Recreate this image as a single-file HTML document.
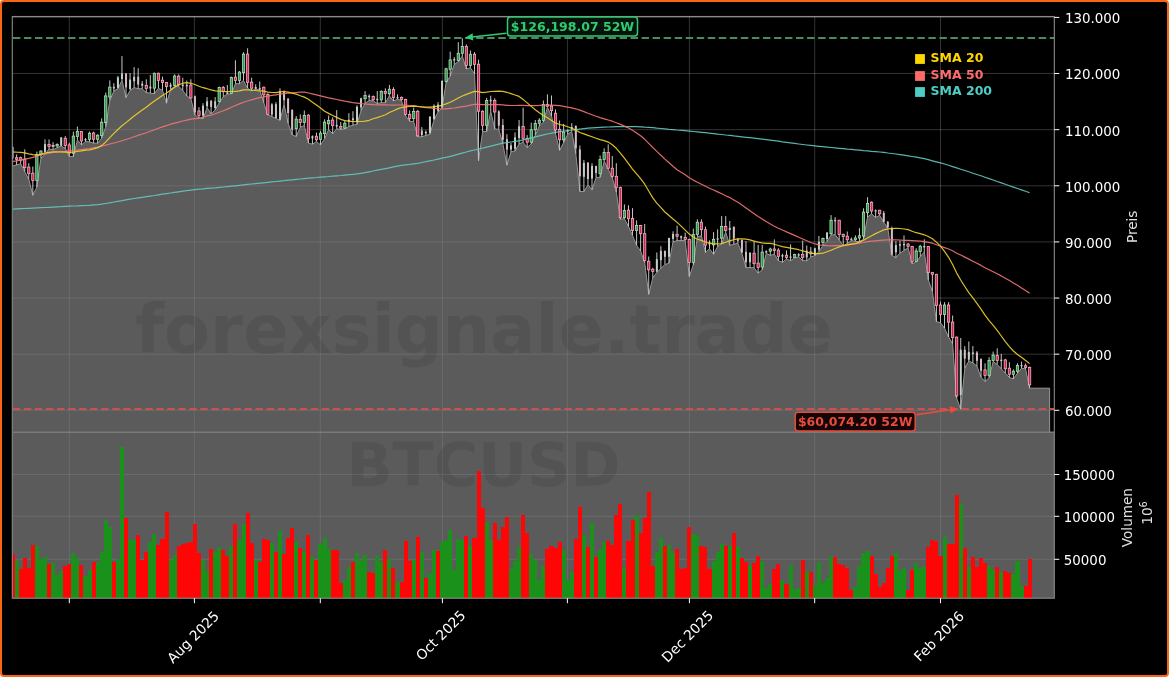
<!DOCTYPE html>
<html><head><meta charset="utf-8"><title>BTCUSD Chart</title>
<style>
html,body{margin:0;padding:0;background:#fff;}
#wrap{position:relative;width:1169px;height:677px;overflow:hidden;background:#fff;}
#frame{position:absolute;left:0;top:0;width:1169px;height:677px;box-sizing:border-box;border:2px solid #f96512;border-radius:4px;background:#000;}
</style></head><body><div id="wrap"><div id="frame"></div>
<svg width="1169" height="677" viewBox="0 0 1169 677" style="position:absolute;left:0;top:0;will-change:transform">
<defs><clipPath id="pc"><rect x="12.3" y="16.5" width="1042.0" height="415.5"/></clipPath>
<clipPath id="vc"><rect x="12.3" y="432.0" width="1042.0" height="166.2"/></clipPath></defs>
<path d="M12.3,410.31H1054.3M12.3,354.18H1054.3M12.3,298.05H1054.3M12.3,241.92H1054.3M12.3,185.79H1054.3M12.3,129.66H1054.3M12.3,73.53H1054.3M12.3,17.40H1054.3M69.3,16.5V598.2M194.4,16.5V598.2M320.3,16.5V598.2M442.4,16.5V598.2M567.4,16.5V598.2M689.4,16.5V598.2M814.7,16.5V598.2M940.5,16.5V598.2M12.3,474.5H1054.3M12.3,516.3H1054.3M12.3,559.3H1054.3" stroke="#fff" stroke-opacity="0.2" stroke-width="1" fill="none"/>
<g clip-path="url(#pc)">
<polygon points="10.3,166.0 12.6,166.0 16.6,164.9 20.7,163.8 24.7,171.5 28.8,179.3 32.8,195.3 36.9,187.0 40.9,158.2 45.0,154.4 49.0,148.8 53.1,149.9 57.1,147.7 61.2,146.0 65.2,148.3 69.3,156.6 73.3,156.6 77.4,139.9 81.5,144.9 85.5,141.5 89.6,141.9 93.6,143.2 97.7,143.2 101.7,138.2 105.8,126.6 109.8,100.4 113.9,91.0 117.9,88.7 122.0,80.4 126.0,97.6 130.1,90.4 134.1,87.6 138.2,88.7 142.2,88.8 146.3,92.6 150.3,93.2 154.4,93.7 158.4,88.2 162.5,90.4 166.5,103.2 170.6,89.3 174.6,86.5 178.7,86.2 182.8,90.4 186.8,96.0 190.9,98.7 194.9,114.9 199.0,117.9 203.0,118.7 207.1,107.7 211.1,113.8 215.2,109.9 219.2,102.7 223.3,96.6 227.3,94.2 231.4,93.8 235.4,83.7 239.5,83.7 243.5,80.4 247.6,88.2 251.6,90.9 255.7,89.3 259.7,90.1 263.8,102.7 267.8,115.1 271.9,116.5 275.9,118.4 280.0,120.4 284.1,104.4 288.1,123.2 292.2,134.8 296.2,136.5 300.3,127.3 304.3,125.4 308.4,143.1 312.4,144.2 316.5,141.5 320.5,144.8 324.6,138.7 328.6,129.6 332.7,133.7 336.7,128.7 340.8,129.6 344.8,128.7 348.9,126.5 352.9,125.2 357.0,124.3 361.0,110.5 365.1,103.3 369.1,100.5 373.2,100.8 377.2,103.5 381.3,102.7 385.4,102.7 389.4,95.8 393.5,101.0 397.5,99.1 401.6,100.7 405.6,115.7 409.7,121.3 413.7,121.5 417.8,136.8 421.8,136.8 425.9,135.4 429.9,134.3 434.0,119.9 438.0,112.1 442.1,108.0 446.1,82.6 450.2,76.0 454.2,64.6 458.3,61.6 462.3,56.0 466.4,69.0 470.4,67.7 474.5,73.8 478.5,160.8 482.6,131.5 486.7,131.5 490.7,111.2 494.8,128.9 498.8,129.4 502.9,143.9 506.9,165.2 511.0,151.9 515.0,151.0 519.1,143.9 523.1,142.2 527.2,147.5 531.2,143.9 535.3,135.1 539.3,126.0 543.4,122.1 547.4,107.2 551.5,116.0 555.5,133.7 559.6,150.4 563.6,142.6 567.7,134.3 571.7,131.3 575.8,153.7 579.9,191.5 583.9,191.5 588.0,184.8 592.0,189.8 596.1,177.4 600.1,177.4 604.2,161.2 608.2,169.0 612.3,177.9 616.3,192.0 620.4,219.3 624.4,218.6 628.5,226.5 632.5,235.4 636.6,245.4 640.6,250.9 644.7,262.5 648.7,294.4 652.8,277.8 656.8,272.5 660.9,268.5 664.9,264.5 669.0,263.2 673.0,241.9 677.1,240.6 681.1,240.6 685.2,240.6 689.3,276.5 693.3,264.8 697.4,236.6 701.4,235.9 705.5,252.5 709.5,248.7 713.6,254.3 717.6,246.5 721.7,243.8 725.7,232.1 729.8,245.4 733.8,244.3 737.9,243.2 741.9,253.2 746.0,267.6 750.0,267.6 754.1,267.8 758.1,273.1 762.2,269.8 766.2,253.4 770.3,255.4 774.3,254.1 778.4,260.7 782.4,262.3 786.5,259.0 790.6,260.7 794.6,257.9 798.7,256.8 802.7,260.7 806.8,260.7 810.8,257.1 814.9,255.6 818.9,251.5 823.0,245.4 827.0,241.5 831.1,235.1 835.1,234.6 839.2,239.8 843.2,245.9 847.3,243.5 851.3,240.4 855.4,241.5 859.4,241.5 863.5,239.3 867.5,217.1 871.6,213.8 875.6,217.5 879.7,215.3 883.8,222.3 887.8,228.2 891.9,255.4 895.9,257.6 900.0,253.1 904.0,250.4 908.1,247.8 912.1,263.7 916.2,262.0 920.2,256.5 924.3,252.0 928.3,279.9 932.4,291.5 936.4,321.6 940.5,322.7 944.5,328.2 948.6,337.0 952.6,343.7 956.7,398.2 960.7,409.2 964.8,368.3 968.8,361.0 972.9,363.0 976.9,366.0 981.0,377.1 985.0,381.5 989.1,377.7 993.2,361.6 997.2,364.4 1001.3,368.8 1005.3,373.2 1009.4,377.4 1013.4,378.8 1017.5,373.2 1021.5,368.2 1025.6,369.0 1029.6,388.2 1049.6,388.2 1049.6,433.0 10.3,433.0" fill="#828282" fill-opacity="0.7"/>
<polyline points="12.6,166.0 16.6,164.9 20.7,163.8 24.7,171.5 28.8,179.3 32.8,195.3 36.9,187.0 40.9,158.2 45.0,154.4 49.0,148.8 53.1,149.9 57.1,147.7 61.2,146.0 65.2,148.3 69.3,156.6 73.3,156.6 77.4,139.9 81.5,144.9 85.5,141.5 89.6,141.9 93.6,143.2 97.7,143.2 101.7,138.2 105.8,126.6 109.8,100.4 113.9,91.0 117.9,88.7 122.0,80.4 126.0,97.6 130.1,90.4 134.1,87.6 138.2,88.7 142.2,88.8 146.3,92.6 150.3,93.2 154.4,93.7 158.4,88.2 162.5,90.4 166.5,103.2 170.6,89.3 174.6,86.5 178.7,86.2 182.8,90.4 186.8,96.0 190.9,98.7 194.9,114.9 199.0,117.9 203.0,118.7 207.1,107.7 211.1,113.8 215.2,109.9 219.2,102.7 223.3,96.6 227.3,94.2 231.4,93.8 235.4,83.7 239.5,83.7 243.5,80.4 247.6,88.2 251.6,90.9 255.7,89.3 259.7,90.1 263.8,102.7 267.8,115.1 271.9,116.5 275.9,118.4 280.0,120.4 284.1,104.4 288.1,123.2 292.2,134.8 296.2,136.5 300.3,127.3 304.3,125.4 308.4,143.1 312.4,144.2 316.5,141.5 320.5,144.8 324.6,138.7 328.6,129.6 332.7,133.7 336.7,128.7 340.8,129.6 344.8,128.7 348.9,126.5 352.9,125.2 357.0,124.3 361.0,110.5 365.1,103.3 369.1,100.5 373.2,100.8 377.2,103.5 381.3,102.7 385.4,102.7 389.4,95.8 393.5,101.0 397.5,99.1 401.6,100.7 405.6,115.7 409.7,121.3 413.7,121.5 417.8,136.8 421.8,136.8 425.9,135.4 429.9,134.3 434.0,119.9 438.0,112.1 442.1,108.0 446.1,82.6 450.2,76.0 454.2,64.6 458.3,61.6 462.3,56.0 466.4,69.0 470.4,67.7 474.5,73.8 478.5,160.8 482.6,131.5 486.7,131.5 490.7,111.2 494.8,128.9 498.8,129.4 502.9,143.9 506.9,165.2 511.0,151.9 515.0,151.0 519.1,143.9 523.1,142.2 527.2,147.5 531.2,143.9 535.3,135.1 539.3,126.0 543.4,122.1 547.4,107.2 551.5,116.0 555.5,133.7 559.6,150.4 563.6,142.6 567.7,134.3 571.7,131.3 575.8,153.7 579.9,191.5 583.9,191.5 588.0,184.8 592.0,189.8 596.1,177.4 600.1,177.4 604.2,161.2 608.2,169.0 612.3,177.9 616.3,192.0 620.4,219.3 624.4,218.6 628.5,226.5 632.5,235.4 636.6,245.4 640.6,250.9 644.7,262.5 648.7,294.4 652.8,277.8 656.8,272.5 660.9,268.5 664.9,264.5 669.0,263.2 673.0,241.9 677.1,240.6 681.1,240.6 685.2,240.6 689.3,276.5 693.3,264.8 697.4,236.6 701.4,235.9 705.5,252.5 709.5,248.7 713.6,254.3 717.6,246.5 721.7,243.8 725.7,232.1 729.8,245.4 733.8,244.3 737.9,243.2 741.9,253.2 746.0,267.6 750.0,267.6 754.1,267.8 758.1,273.1 762.2,269.8 766.2,253.4 770.3,255.4 774.3,254.1 778.4,260.7 782.4,262.3 786.5,259.0 790.6,260.7 794.6,257.9 798.7,256.8 802.7,260.7 806.8,260.7 810.8,257.1 814.9,255.6 818.9,251.5 823.0,245.4 827.0,241.5 831.1,235.1 835.1,234.6 839.2,239.8 843.2,245.9 847.3,243.5 851.3,240.4 855.4,241.5 859.4,241.5 863.5,239.3 867.5,217.1 871.6,213.8 875.6,217.5 879.7,215.3 883.8,222.3 887.8,228.2 891.9,255.4 895.9,257.6 900.0,253.1 904.0,250.4 908.1,247.8 912.1,263.7 916.2,262.0 920.2,256.5 924.3,252.0 928.3,279.9 932.4,291.5 936.4,321.6 940.5,322.7 944.5,328.2 948.6,337.0 952.6,343.7 956.7,398.2 960.7,409.2 964.8,368.3 968.8,361.0 972.9,363.0 976.9,366.0 981.0,377.1 985.0,381.5 989.1,377.7 993.2,361.6 997.2,364.4 1001.3,368.8 1005.3,373.2 1009.4,377.4 1013.4,378.8 1017.5,373.2 1021.5,368.2 1025.6,369.0 1029.6,388.2 1049.6,388.2 1049.6,432.0" fill="none" stroke="#959595" stroke-width="1"/>
</g>
<rect x="12.3" y="432.0" width="1042.0" height="166.20000000000005" fill="#828282" fill-opacity="0.7"/>
<text x="484" y="353" font-family="DejaVu Sans" font-weight="bold" font-size="67.0" fill="#000" fill-opacity="0.08" text-anchor="middle">forexsignale.trade</text>
<text x="483.6" y="485.6" font-family="DejaVu Sans" font-weight="bold" font-size="60.4" fill="#000" fill-opacity="0.08" text-anchor="middle">BTCUSD</text>
<g clip-path="url(#pc)"><path d="M12.3,37.9H1054.3" stroke="rgb(72,140,95)" stroke-width="2" stroke-dasharray="7.43,3.6" stroke-dashoffset="10.43"/>
<path d="M12.3,409.0H1054.3" stroke="rgb(205,80,80)" stroke-width="2" stroke-dasharray="7.43,3.6" stroke-dashoffset="10.43"/></g>
<g clip-path="url(#pc)">
<path d="M12.57,146.6V166.0M16.62,154.4V164.9M20.67,156.6V163.8M24.73,149.4V171.5M28.78,163.2V179.3M32.83,166.5V195.3M36.88,151.6V187.0M40.93,150.5V158.2M44.99,139.4V154.4M49.04,139.4V148.8M53.09,142.2V149.9M57.14,143.3V147.7M61.19,137.2V146.0M65.25,136.1V148.3M69.30,142.7V156.6M73.35,131.6V156.6M77.40,126.6V139.9M81.45,131.0V144.9M85.51,138.2V141.5M89.56,131.6V141.9M93.61,131.6V143.2M97.66,134.3V143.2M101.71,118.3V138.2M105.77,92.6V126.6M109.82,80.4V100.4M113.87,83.2V91.0M117.92,76.0V88.7M121.97,56.1V80.4M126.03,73.2V97.6M130.08,73.2V90.4M134.13,67.1V87.6M138.18,68.2V88.7M142.23,81.0V88.8M146.29,79.3V92.6M150.34,75.1V93.2M154.39,72.7V93.7M158.44,72.7V88.2M162.49,76.6V90.4M166.55,82.1V103.2M170.60,82.7V89.3M174.65,74.4V86.5M178.70,74.4V86.2M182.75,77.7V90.4M186.81,80.5V96.0M190.86,79.3V98.7M194.91,95.5V114.9M198.96,107.1V117.9M203.01,103.2V118.7M207.07,97.1V107.7M211.12,99.9V113.8M215.17,97.1V109.9M219.22,86.6V102.7M223.27,86.1V96.6M227.33,85.0V94.2M231.38,76.6V93.8M235.43,60.3V83.7M239.48,71.0V83.7M243.53,52.2V80.4M247.59,48.3V88.2M251.64,77.7V90.9M255.69,84.3V89.3M259.74,81.5V90.1M263.79,86.6V102.7M267.85,93.3V115.1M271.90,103.2V116.5M275.95,102.1V118.4M280.00,88.3V120.4M284.05,90.5V104.4M288.11,98.3V123.2M292.16,109.3V134.8M296.21,116.0V136.5M300.26,114.3V127.3M304.31,110.5V125.4M308.37,114.3V143.1M312.42,135.4V144.2M316.47,132.6V141.5M320.52,130.9V144.8M324.57,119.3V138.7M328.63,115.5V129.6M332.68,117.4V133.7M336.73,110.1V128.7M340.78,122.1V129.6M344.83,120.4V128.7M348.89,113.2V126.5M352.94,111.2V125.2M356.99,105.3V124.3M361.04,97.7V110.5M365.09,91.1V103.3M369.15,94.4V100.5M373.20,95.5V100.8M377.25,91.1V103.5M381.30,90.3V102.7M385.35,88.3V102.7M389.41,84.9V95.8M393.46,87.2V101.0M397.51,94.4V99.1M401.56,96.6V100.7M405.61,98.8V115.7M409.67,110.4V121.3M413.72,107.7V121.5M417.77,109.9V136.8M421.82,127.1V136.8M425.87,130.4V135.4M429.93,116.0V134.3M433.98,104.4V119.9M438.03,102.1V112.1M442.08,80.5V108.0M446.13,67.7V82.6M450.19,51.6V76.0M454.24,57.1V64.6M458.29,42.2V61.6M462.34,38.3V56.0M466.39,44.4V69.0M470.45,50.5V67.7M474.50,52.2V73.8M478.55,59.7V160.8M482.60,110.3V131.5M486.65,97.9V131.5M490.71,95.7V111.2M494.76,98.2V128.9M498.81,110.3V129.4M502.86,119.1V143.9M506.91,134.2V165.2M510.97,143.1V151.9M515.02,132.4V151.0M519.07,120.0V143.9M523.12,107.6V142.2M527.17,135.1V147.5M531.23,122.7V143.9M535.28,120.0V135.1M539.33,118.2V126.0M543.38,100.5V122.1M547.43,94.4V107.2M551.49,95.5V116.0M555.54,109.4V133.7M559.59,120.5V150.4M563.64,123.8V142.6M567.69,129.3V134.3M571.75,123.2V131.3M575.80,125.4V153.7M579.85,145.5V191.5M583.90,159.9V191.5M587.95,162.1V184.8M592.01,163.2V189.8M596.06,165.7V177.4M600.11,155.5V177.4M604.16,148.3V161.2M608.21,144.4V169.0M612.27,156.0V177.9M616.32,163.2V192.0M620.37,186.6V219.3M624.42,204.4V218.6M628.47,205.3V226.5M632.53,208.2V235.4M636.58,220.4V245.4M640.63,224.9V250.9M644.68,224.0V262.5M648.73,256.5V294.4M652.79,267.8V277.8M656.84,252.5V272.5M660.89,246.2V268.5M664.94,250.5V264.5M668.99,237.9V263.2M673.05,231.3V241.9M677.10,225.7V240.6M681.15,235.5V240.6M685.20,232.6V240.6M689.25,238.6V276.5M693.31,228.6V264.8M697.36,219.3V236.6M701.41,219.3V235.9M705.46,226.6V252.5M709.51,240.4V248.7M713.57,232.1V254.3M717.62,229.4V246.5M721.67,216.1V243.8M725.72,216.1V232.1M729.77,221.0V245.4M733.83,226.4V244.3M737.88,238.2V243.2M741.93,239.7V253.2M745.98,241.0V267.6M750.03,252.1V267.6M754.09,241.5V267.8M758.14,244.9V273.1M762.19,244.9V269.8M766.24,250.4V253.4M770.29,247.7V255.4M774.35,239.4V254.1M778.40,248.2V260.7M782.45,253.8V262.3M786.50,250.4V259.0M790.55,244.3V260.7M794.61,253.8V257.9M798.66,253.2V256.8M802.71,240.5V260.7M806.76,245.5V260.7M810.81,247.1V257.1M814.87,247.7V255.6M818.92,236.0V251.5M822.97,237.6V245.4M827.02,232.1V241.5M831.07,215.1V235.1M835.13,217.1V234.6M839.18,219.9V239.8M843.23,233.7V245.9M847.28,231.5V243.5M851.33,237.6V240.4M855.39,235.4V241.5M859.44,228.2V241.5M863.49,208.3V239.3M867.54,197.2V217.1M871.59,201.4V213.8M875.65,209.4V217.5M879.70,209.9V215.3M883.75,211.0V222.3M887.80,221.0V228.2M891.85,226.6V255.4M895.91,241.0V257.6M899.96,240.4V253.1M904.01,235.4V250.4M908.06,243.0V247.8M912.11,245.9V263.7M916.17,248.2V262.0M920.22,244.8V256.5M924.27,239.3V252.0M928.32,246.1V279.9M932.37,272.1V291.5M936.43,273.8V321.6M940.48,301.6V322.7M944.53,302.2V328.2M948.58,302.2V337.0M952.63,315.5V343.7M956.69,336.5V398.2M960.74,338.0V409.2M964.79,346.1V368.3M968.84,341.5V361.0M972.89,346.1V363.0M976.95,351.1V366.0M981.00,358.3V377.1M985.05,363.3V381.5M989.10,357.2V377.7M993.15,351.6V361.6M997.21,348.3V364.4M1001.26,353.9V368.8M1005.31,358.8V373.2M1009.36,362.2V377.4M1013.41,369.4V378.8M1017.47,363.3V373.2M1021.52,361.6V368.2M1025.57,363.5V369.0M1029.62,366.6V388.2" stroke="#c6c6c6" stroke-width="1" fill="none"/>
<rect x="11.57" y="146.9" width="2.0" height="11.6" fill="#d6bcc5"/>
<rect x="15.47" y="157.7" width="2.3" height="1.6" fill="#cc2a55" stroke="#f6b3c6" stroke-width="0.75"/>
<rect x="19.52" y="157.7" width="2.3" height="2.8" fill="#cc2a55" stroke="#f6b3c6" stroke-width="0.75"/>
<rect x="23.58" y="159.3" width="2.3" height="8.4" fill="#cc2a55" stroke="#f6b3c6" stroke-width="0.75"/>
<rect x="27.63" y="167.1" width="2.3" height="6.6" fill="#cc2a55" stroke="#f6b3c6" stroke-width="0.75"/>
<rect x="31.68" y="173.2" width="2.3" height="7.2" fill="#cc2a55" stroke="#f6b3c6" stroke-width="0.75"/>
<rect x="35.73" y="154.4" width="2.3" height="26.0" fill="#2f9a48" stroke="#b5e0bd" stroke-width="0.75"/>
<rect x="39.78" y="151.0" width="2.3" height="3.9" fill="#2f9a48" stroke="#b5e0bd" stroke-width="0.75"/>
<rect x="43.99" y="144.1" width="2.0" height="7.8" fill="#c2d0c6"/>
<rect x="47.89" y="144.4" width="2.3" height="2.2" fill="#cc2a55" stroke="#f6b3c6" stroke-width="0.75"/>
<rect x="51.94" y="145.5" width="2.3" height="1.1" fill="#cc2a55" stroke="#f6b3c6" stroke-width="0.75"/>
<rect x="55.99" y="144.4" width="2.3" height="1.6" fill="#2f9a48" stroke="#b5e0bd" stroke-width="0.75"/>
<rect x="60.19" y="137.4" width="2.0" height="8.4" fill="#c2d0c6"/>
<rect x="64.10" y="138.3" width="2.3" height="7.2" fill="#cc2a55" stroke="#f6b3c6" stroke-width="0.75"/>
<rect x="68.15" y="144.9" width="2.3" height="8.3" fill="#cc2a55" stroke="#f6b3c6" stroke-width="0.75"/>
<rect x="72.20" y="136.1" width="2.3" height="17.1" fill="#2f9a48" stroke="#b5e0bd" stroke-width="0.75"/>
<rect x="76.25" y="131.6" width="2.3" height="5.0" fill="#2f9a48" stroke="#b5e0bd" stroke-width="0.75"/>
<rect x="80.30" y="131.6" width="2.3" height="9.4" fill="#cc2a55" stroke="#f6b3c6" stroke-width="0.75"/>
<rect x="84.51" y="139.0" width="2.0" height="1.4" fill="#cccccc"/>
<rect x="88.41" y="133.2" width="2.3" height="6.1" fill="#2f9a48" stroke="#b5e0bd" stroke-width="0.75"/>
<rect x="92.46" y="133.0" width="2.3" height="6.3" fill="#cc2a55" stroke="#f6b3c6" stroke-width="0.75"/>
<rect x="96.51" y="135.2" width="2.3" height="4.1" fill="#2f9a48" stroke="#b5e0bd" stroke-width="0.75"/>
<rect x="100.56" y="122.2" width="2.3" height="13.3" fill="#2f9a48" stroke="#b5e0bd" stroke-width="0.75"/>
<rect x="104.62" y="95.9" width="2.3" height="26.8" fill="#2f9a48" stroke="#b5e0bd" stroke-width="0.75"/>
<rect x="108.67" y="87.1" width="2.3" height="10.0" fill="#2f9a48" stroke="#b5e0bd" stroke-width="0.75"/>
<rect x="112.87" y="86.8" width="2.0" height="1.7" fill="#cccccc"/>
<rect x="116.92" y="77.4" width="2.0" height="10.5" fill="#c2d0c6"/>
<rect x="120.97" y="73.5" width="2.0" height="5.6" fill="#c2d0c6"/>
<rect x="125.03" y="73.5" width="2.0" height="13.9" fill="#d6bcc5"/>
<rect x="129.08" y="79.6" width="2.0" height="9.4" fill="#c2d0c6"/>
<rect x="133.13" y="76.8" width="2.0" height="4.5" fill="#c2d0c6"/>
<rect x="137.18" y="76.8" width="2.0" height="7.8" fill="#d6bcc5"/>
<rect x="141.23" y="83.7" width="2.0" height="2.0" fill="#cccccc"/>
<rect x="145.14" y="85.4" width="2.3" height="3.0" fill="#cc2a55" stroke="#f6b3c6" stroke-width="0.75"/>
<rect x="149.34" y="86.6" width="2.0" height="1.9" fill="#cccccc"/>
<rect x="153.24" y="73.2" width="2.3" height="15.0" fill="#2f9a48" stroke="#b5e0bd" stroke-width="0.75"/>
<rect x="157.29" y="73.2" width="2.3" height="7.3" fill="#cc2a55" stroke="#f6b3c6" stroke-width="0.75"/>
<rect x="161.34" y="80.2" width="2.3" height="2.2" fill="#cc2a55" stroke="#f6b3c6" stroke-width="0.75"/>
<rect x="165.40" y="82.4" width="2.3" height="4.1" fill="#cc2a55" stroke="#f6b3c6" stroke-width="0.75"/>
<rect x="169.60" y="84.8" width="2.0" height="2.0" fill="#cccccc"/>
<rect x="173.50" y="76.0" width="2.3" height="9.4" fill="#2f9a48" stroke="#b5e0bd" stroke-width="0.75"/>
<rect x="177.55" y="76.2" width="2.3" height="8.7" fill="#cc2a55" stroke="#f6b3c6" stroke-width="0.75"/>
<rect x="181.75" y="84.6" width="2.0" height="1.5" fill="#cccccc"/>
<rect x="185.81" y="84.8" width="2.0" height="1.5" fill="#cccccc"/>
<rect x="189.71" y="85.1" width="2.3" height="12.9" fill="#cc2a55" stroke="#f6b3c6" stroke-width="0.75"/>
<rect x="193.91" y="96.3" width="2.0" height="16.1" fill="#d6bcc5"/>
<rect x="197.81" y="111.0" width="2.3" height="4.4" fill="#cc2a55" stroke="#f6b3c6" stroke-width="0.75"/>
<rect x="202.01" y="105.7" width="2.0" height="10.0" fill="#c2d0c6"/>
<rect x="206.07" y="101.3" width="2.0" height="5.0" fill="#c2d0c6"/>
<rect x="210.12" y="100.9" width="2.0" height="6.0" fill="#d6bcc5"/>
<rect x="214.17" y="101.3" width="2.0" height="6.7" fill="#c2d0c6"/>
<rect x="218.07" y="87.5" width="2.3" height="14.1" fill="#2f9a48" stroke="#b5e0bd" stroke-width="0.75"/>
<rect x="222.12" y="87.5" width="2.3" height="4.1" fill="#cc2a55" stroke="#f6b3c6" stroke-width="0.75"/>
<rect x="226.33" y="92.4" width="2.0" height="1.4" fill="#cccccc"/>
<rect x="230.23" y="77.5" width="2.3" height="15.8" fill="#2f9a48" stroke="#b5e0bd" stroke-width="0.75"/>
<rect x="234.28" y="77.1" width="2.3" height="3.3" fill="#cc2a55" stroke="#f6b3c6" stroke-width="0.75"/>
<rect x="238.33" y="72.1" width="2.3" height="8.3" fill="#2f9a48" stroke="#b5e0bd" stroke-width="0.75"/>
<rect x="242.38" y="54.1" width="2.3" height="18.6" fill="#2f9a48" stroke="#b5e0bd" stroke-width="0.75"/>
<rect x="246.44" y="54.1" width="2.3" height="28.5" fill="#cc2a55" stroke="#f6b3c6" stroke-width="0.75"/>
<rect x="250.49" y="82.1" width="2.3" height="6.1" fill="#cc2a55" stroke="#f6b3c6" stroke-width="0.75"/>
<rect x="254.69" y="87.0" width="2.0" height="1.9" fill="#cccccc"/>
<rect x="258.74" y="88.1" width="2.0" height="1.5" fill="#cccccc"/>
<rect x="262.64" y="87.2" width="2.3" height="7.7" fill="#cc2a55" stroke="#f6b3c6" stroke-width="0.75"/>
<rect x="266.70" y="94.4" width="2.3" height="19.9" fill="#cc2a55" stroke="#f6b3c6" stroke-width="0.75"/>
<rect x="270.90" y="104.4" width="2.0" height="10.2" fill="#c2d0c6"/>
<rect x="274.95" y="104.1" width="2.0" height="13.9" fill="#d6bcc5"/>
<rect x="279.00" y="91.3" width="2.0" height="28.3" fill="#c2d0c6"/>
<rect x="283.05" y="91.9" width="2.0" height="8.3" fill="#d6bcc5"/>
<rect x="287.11" y="98.5" width="2.0" height="14.5" fill="#d6bcc5"/>
<rect x="291.16" y="109.9" width="2.0" height="19.7" fill="#d6bcc5"/>
<rect x="295.06" y="119.1" width="2.3" height="9.6" fill="#2f9a48" stroke="#b5e0bd" stroke-width="0.75"/>
<rect x="299.11" y="119.3" width="2.3" height="3.1" fill="#cc2a55" stroke="#f6b3c6" stroke-width="0.75"/>
<rect x="303.16" y="115.4" width="2.3" height="7.2" fill="#2f9a48" stroke="#b5e0bd" stroke-width="0.75"/>
<rect x="307.22" y="115.1" width="2.3" height="23.6" fill="#cc2a55" stroke="#f6b3c6" stroke-width="0.75"/>
<rect x="311.42" y="136.2" width="2.0" height="2.2" fill="#cccccc"/>
<rect x="315.32" y="136.2" width="2.3" height="3.6" fill="#cc2a55" stroke="#f6b3c6" stroke-width="0.75"/>
<rect x="319.37" y="133.2" width="2.3" height="6.1" fill="#2f9a48" stroke="#b5e0bd" stroke-width="0.75"/>
<rect x="323.42" y="122.1" width="2.3" height="11.6" fill="#2f9a48" stroke="#b5e0bd" stroke-width="0.75"/>
<rect x="327.48" y="120.4" width="2.3" height="3.4" fill="#2f9a48" stroke="#b5e0bd" stroke-width="0.75"/>
<rect x="331.53" y="120.1" width="2.3" height="5.5" fill="#cc2a55" stroke="#f6b3c6" stroke-width="0.75"/>
<rect x="335.73" y="124.9" width="2.0" height="1.7" fill="#cccccc"/>
<rect x="339.63" y="126.5" width="2.3" height="1.7" fill="#cc2a55" stroke="#f6b3c6" stroke-width="0.75"/>
<rect x="343.68" y="123.2" width="2.3" height="5.0" fill="#2f9a48" stroke="#b5e0bd" stroke-width="0.75"/>
<rect x="347.89" y="119.8" width="2.0" height="2.0" fill="#cccccc"/>
<rect x="351.94" y="118.3" width="2.0" height="1.9" fill="#cccccc"/>
<rect x="355.99" y="106.8" width="2.0" height="15.4" fill="#c2d0c6"/>
<rect x="360.04" y="98.3" width="2.0" height="9.1" fill="#c2d0c6"/>
<rect x="363.94" y="95.5" width="2.3" height="3.3" fill="#2f9a48" stroke="#b5e0bd" stroke-width="0.75"/>
<rect x="368.15" y="95.8" width="2.0" height="1.4" fill="#cccccc"/>
<rect x="372.05" y="96.4" width="2.3" height="3.3" fill="#cc2a55" stroke="#f6b3c6" stroke-width="0.75"/>
<rect x="376.25" y="98.8" width="2.0" height="1.4" fill="#cccccc"/>
<rect x="380.15" y="91.4" width="2.3" height="8.5" fill="#2f9a48" stroke="#b5e0bd" stroke-width="0.75"/>
<rect x="384.20" y="91.4" width="2.3" height="2.2" fill="#cc2a55" stroke="#f6b3c6" stroke-width="0.75"/>
<rect x="388.26" y="89.2" width="2.3" height="4.6" fill="#2f9a48" stroke="#b5e0bd" stroke-width="0.75"/>
<rect x="392.31" y="89.4" width="2.3" height="8.3" fill="#cc2a55" stroke="#f6b3c6" stroke-width="0.75"/>
<rect x="396.51" y="97.0" width="2.0" height="1.4" fill="#cccccc"/>
<rect x="400.41" y="97.3" width="2.3" height="2.3" fill="#cc2a55" stroke="#f6b3c6" stroke-width="0.75"/>
<rect x="404.46" y="99.6" width="2.3" height="14.7" fill="#cc2a55" stroke="#f6b3c6" stroke-width="0.75"/>
<rect x="408.52" y="114.3" width="2.3" height="4.1" fill="#cc2a55" stroke="#f6b3c6" stroke-width="0.75"/>
<rect x="412.57" y="111.5" width="2.3" height="6.9" fill="#2f9a48" stroke="#b5e0bd" stroke-width="0.75"/>
<rect x="416.62" y="111.3" width="2.3" height="24.6" fill="#cc2a55" stroke="#f6b3c6" stroke-width="0.75"/>
<rect x="420.82" y="130.6" width="2.0" height="4.5" fill="#cccccc"/>
<rect x="424.87" y="131.8" width="2.0" height="1.7" fill="#cccccc"/>
<rect x="428.93" y="116.8" width="2.0" height="16.1" fill="#c2d0c6"/>
<rect x="432.98" y="105.7" width="2.0" height="13.4" fill="#c2d0c6"/>
<rect x="437.03" y="104.6" width="2.0" height="6.2" fill="#c2d0c6"/>
<rect x="441.08" y="80.8" width="2.0" height="26.6" fill="#c2d0c6"/>
<rect x="444.98" y="68.8" width="2.3" height="12.7" fill="#2f9a48" stroke="#b5e0bd" stroke-width="0.75"/>
<rect x="449.04" y="59.9" width="2.3" height="9.4" fill="#2f9a48" stroke="#b5e0bd" stroke-width="0.75"/>
<rect x="453.24" y="59.1" width="2.0" height="1.4" fill="#cccccc"/>
<rect x="457.14" y="53.3" width="2.3" height="7.2" fill="#2f9a48" stroke="#b5e0bd" stroke-width="0.75"/>
<rect x="461.19" y="46.4" width="2.3" height="6.9" fill="#2f9a48" stroke="#b5e0bd" stroke-width="0.75"/>
<rect x="465.24" y="46.4" width="2.3" height="19.1" fill="#cc2a55" stroke="#f6b3c6" stroke-width="0.75"/>
<rect x="469.30" y="54.2" width="2.3" height="11.3" fill="#2f9a48" stroke="#b5e0bd" stroke-width="0.75"/>
<rect x="473.35" y="54.2" width="2.3" height="10.1" fill="#cc2a55" stroke="#f6b3c6" stroke-width="0.75"/>
<rect x="477.40" y="64.2" width="2.3" height="47.0" fill="#cc2a55" stroke="#f6b3c6" stroke-width="0.75"/>
<rect x="481.45" y="111.2" width="2.3" height="14.1" fill="#cc2a55" stroke="#f6b3c6" stroke-width="0.75"/>
<rect x="485.50" y="100.5" width="2.3" height="24.8" fill="#2f9a48" stroke="#b5e0bd" stroke-width="0.75"/>
<rect x="489.71" y="99.7" width="2.0" height="1.6" fill="#cccccc"/>
<rect x="493.61" y="100.5" width="2.3" height="11.5" fill="#cc2a55" stroke="#f6b3c6" stroke-width="0.75"/>
<rect x="497.81" y="111.4" width="2.0" height="14.2" fill="#d6bcc5"/>
<rect x="501.86" y="125.0" width="2.0" height="14.8" fill="#d6bcc5"/>
<rect x="505.91" y="139.2" width="2.0" height="10.4" fill="#d6bcc5"/>
<rect x="509.97" y="145.4" width="2.0" height="4.2" fill="#cccccc"/>
<rect x="514.02" y="137.4" width="2.0" height="11.3" fill="#c2d0c6"/>
<rect x="518.07" y="126.3" width="2.0" height="11.7" fill="#c2d0c6"/>
<rect x="521.97" y="126.6" width="2.3" height="11.7" fill="#cc2a55" stroke="#f6b3c6" stroke-width="0.75"/>
<rect x="526.02" y="138.3" width="2.3" height="3.9" fill="#cc2a55" stroke="#f6b3c6" stroke-width="0.75"/>
<rect x="530.08" y="129.8" width="2.3" height="12.4" fill="#2f9a48" stroke="#b5e0bd" stroke-width="0.75"/>
<rect x="534.13" y="123.6" width="2.3" height="6.2" fill="#2f9a48" stroke="#b5e0bd" stroke-width="0.75"/>
<rect x="538.18" y="120.2" width="2.3" height="3.0" fill="#2f9a48" stroke="#b5e0bd" stroke-width="0.75"/>
<rect x="542.23" y="104.4" width="2.3" height="16.1" fill="#2f9a48" stroke="#b5e0bd" stroke-width="0.75"/>
<rect x="546.28" y="104.4" width="2.3" height="1.9" fill="#cc2a55" stroke="#f6b3c6" stroke-width="0.75"/>
<rect x="550.34" y="106.0" width="2.3" height="4.7" fill="#cc2a55" stroke="#f6b3c6" stroke-width="0.75"/>
<rect x="554.39" y="113.2" width="2.3" height="16.7" fill="#cc2a55" stroke="#f6b3c6" stroke-width="0.75"/>
<rect x="558.44" y="129.3" width="2.3" height="10.5" fill="#cc2a55" stroke="#f6b3c6" stroke-width="0.75"/>
<rect x="562.49" y="132.1" width="2.3" height="7.7" fill="#2f9a48" stroke="#b5e0bd" stroke-width="0.75"/>
<rect x="566.69" y="129.9" width="2.0" height="1.9" fill="#cccccc"/>
<rect x="570.75" y="127.0" width="2.0" height="2.1" fill="#cccccc"/>
<rect x="574.80" y="125.9" width="2.0" height="22.5" fill="#d6bcc5"/>
<rect x="578.85" y="149.4" width="2.0" height="26.9" fill="#d6bcc5"/>
<rect x="582.90" y="162.9" width="2.0" height="13.9" fill="#c2d0c6"/>
<rect x="586.95" y="162.7" width="2.0" height="16.3" fill="#d6bcc5"/>
<rect x="591.01" y="166.0" width="2.0" height="12.5" fill="#c2d0c6"/>
<rect x="595.06" y="166.0" width="2.0" height="7.0" fill="#d6bcc5"/>
<rect x="598.96" y="159.4" width="2.3" height="14.4" fill="#2f9a48" stroke="#b5e0bd" stroke-width="0.75"/>
<rect x="603.01" y="152.4" width="2.3" height="7.0" fill="#2f9a48" stroke="#b5e0bd" stroke-width="0.75"/>
<rect x="607.06" y="152.4" width="2.3" height="15.8" fill="#cc2a55" stroke="#f6b3c6" stroke-width="0.75"/>
<rect x="611.12" y="168.2" width="2.3" height="8.3" fill="#cc2a55" stroke="#f6b3c6" stroke-width="0.75"/>
<rect x="615.17" y="176.3" width="2.3" height="11.3" fill="#cc2a55" stroke="#f6b3c6" stroke-width="0.75"/>
<rect x="619.22" y="187.5" width="2.3" height="30.2" fill="#cc2a55" stroke="#f6b3c6" stroke-width="0.75"/>
<rect x="623.27" y="210.5" width="2.3" height="7.2" fill="#2f9a48" stroke="#b5e0bd" stroke-width="0.75"/>
<rect x="627.32" y="210.1" width="2.3" height="8.7" fill="#cc2a55" stroke="#f6b3c6" stroke-width="0.75"/>
<rect x="631.38" y="218.6" width="2.3" height="11.8" fill="#cc2a55" stroke="#f6b3c6" stroke-width="0.75"/>
<rect x="635.43" y="225.4" width="2.3" height="5.0" fill="#2f9a48" stroke="#b5e0bd" stroke-width="0.75"/>
<rect x="639.48" y="225.4" width="2.3" height="8.3" fill="#cc2a55" stroke="#f6b3c6" stroke-width="0.75"/>
<rect x="643.53" y="233.7" width="2.3" height="26.8" fill="#cc2a55" stroke="#f6b3c6" stroke-width="0.75"/>
<rect x="647.58" y="261.2" width="2.3" height="8.6" fill="#cc2a55" stroke="#f6b3c6" stroke-width="0.75"/>
<rect x="651.64" y="269.2" width="2.3" height="2.2" fill="#cc2a55" stroke="#f6b3c6" stroke-width="0.75"/>
<rect x="655.84" y="259.2" width="2.0" height="12.3" fill="#c2d0c6"/>
<rect x="659.89" y="250.9" width="2.0" height="9.3" fill="#c2d0c6"/>
<rect x="663.94" y="250.9" width="2.0" height="5.9" fill="#d6bcc5"/>
<rect x="667.99" y="237.9" width="2.0" height="18.9" fill="#c2d0c6"/>
<rect x="672.05" y="233.9" width="2.0" height="5.0" fill="#c2d0c6"/>
<rect x="675.95" y="234.3" width="2.3" height="2.0" fill="#cc2a55" stroke="#f6b3c6" stroke-width="0.75"/>
<rect x="680.15" y="236.3" width="2.0" height="1.5" fill="#cccccc"/>
<rect x="684.05" y="237.3" width="2.3" height="2.2" fill="#cc2a55" stroke="#f6b3c6" stroke-width="0.75"/>
<rect x="688.10" y="239.5" width="2.3" height="23.0" fill="#cc2a55" stroke="#f6b3c6" stroke-width="0.75"/>
<rect x="692.16" y="234.6" width="2.3" height="27.9" fill="#2f9a48" stroke="#b5e0bd" stroke-width="0.75"/>
<rect x="696.21" y="222.2" width="2.3" height="12.4" fill="#2f9a48" stroke="#b5e0bd" stroke-width="0.75"/>
<rect x="700.26" y="222.2" width="2.3" height="7.5" fill="#cc2a55" stroke="#f6b3c6" stroke-width="0.75"/>
<rect x="704.31" y="229.7" width="2.3" height="15.5" fill="#cc2a55" stroke="#f6b3c6" stroke-width="0.75"/>
<rect x="708.51" y="242.4" width="2.0" height="2.0" fill="#cccccc"/>
<rect x="712.42" y="239.3" width="2.3" height="5.6" fill="#2f9a48" stroke="#b5e0bd" stroke-width="0.75"/>
<rect x="716.62" y="238.3" width="2.0" height="1.4" fill="#cccccc"/>
<rect x="720.52" y="226.4" width="2.3" height="11.8" fill="#2f9a48" stroke="#b5e0bd" stroke-width="0.75"/>
<rect x="724.57" y="226.4" width="2.3" height="4.1" fill="#cc2a55" stroke="#f6b3c6" stroke-width="0.75"/>
<rect x="728.77" y="227.9" width="2.0" height="2.1" fill="#cccccc"/>
<rect x="732.83" y="226.8" width="2.0" height="11.7" fill="#d6bcc5"/>
<rect x="736.88" y="239.4" width="2.0" height="1.4" fill="#cccccc"/>
<rect x="740.93" y="239.8" width="2.0" height="12.6" fill="#d6bcc5"/>
<rect x="744.98" y="251.8" width="2.0" height="10.5" fill="#d6bcc5"/>
<rect x="749.03" y="252.9" width="2.0" height="9.4" fill="#c2d0c6"/>
<rect x="752.94" y="253.2" width="2.3" height="10.5" fill="#cc2a55" stroke="#f6b3c6" stroke-width="0.75"/>
<rect x="756.99" y="263.1" width="2.3" height="4.3" fill="#cc2a55" stroke="#f6b3c6" stroke-width="0.75"/>
<rect x="761.04" y="252.1" width="2.3" height="14.9" fill="#2f9a48" stroke="#b5e0bd" stroke-width="0.75"/>
<rect x="765.24" y="251.1" width="2.0" height="1.5" fill="#cccccc"/>
<rect x="769.14" y="249.0" width="2.3" height="2.2" fill="#2f9a48" stroke="#b5e0bd" stroke-width="0.75"/>
<rect x="773.20" y="249.0" width="2.3" height="1.4" fill="#cc2a55" stroke="#f6b3c6" stroke-width="0.75"/>
<rect x="777.25" y="250.1" width="2.3" height="6.4" fill="#cc2a55" stroke="#f6b3c6" stroke-width="0.75"/>
<rect x="781.45" y="254.9" width="2.0" height="1.7" fill="#cccccc"/>
<rect x="785.35" y="255.2" width="2.3" height="2.4" fill="#cc2a55" stroke="#f6b3c6" stroke-width="0.75"/>
<rect x="789.55" y="256.5" width="2.0" height="1.4" fill="#cccccc"/>
<rect x="793.46" y="254.5" width="2.3" height="2.9" fill="#2f9a48" stroke="#b5e0bd" stroke-width="0.75"/>
<rect x="797.66" y="254.2" width="2.0" height="1.5" fill="#cccccc"/>
<rect x="801.56" y="254.5" width="2.3" height="3.1" fill="#cc2a55" stroke="#f6b3c6" stroke-width="0.75"/>
<rect x="805.76" y="250.7" width="2.0" height="6.7" fill="#c2d0c6"/>
<rect x="809.66" y="251.9" width="2.3" height="1.9" fill="#cc2a55" stroke="#f6b3c6" stroke-width="0.75"/>
<rect x="813.87" y="248.3" width="2.0" height="6.9" fill="#c2d0c6"/>
<rect x="817.92" y="241.8" width="2.0" height="7.8" fill="#c2d0c6"/>
<rect x="821.82" y="238.4" width="2.3" height="4.2" fill="#2f9a48" stroke="#b5e0bd" stroke-width="0.75"/>
<rect x="826.02" y="232.6" width="2.0" height="6.4" fill="#c2d0c6"/>
<rect x="829.92" y="220.2" width="2.3" height="13.5" fill="#2f9a48" stroke="#b5e0bd" stroke-width="0.75"/>
<rect x="834.13" y="219.9" width="2.0" height="1.4" fill="#cccccc"/>
<rect x="838.03" y="220.2" width="2.3" height="14.4" fill="#cc2a55" stroke="#f6b3c6" stroke-width="0.75"/>
<rect x="842.08" y="234.3" width="2.3" height="2.2" fill="#cc2a55" stroke="#f6b3c6" stroke-width="0.75"/>
<rect x="846.13" y="236.2" width="2.3" height="3.6" fill="#cc2a55" stroke="#f6b3c6" stroke-width="0.75"/>
<rect x="850.33" y="238.8" width="2.0" height="1.4" fill="#cccccc"/>
<rect x="854.24" y="238.0" width="2.3" height="1.8" fill="#2f9a48" stroke="#b5e0bd" stroke-width="0.75"/>
<rect x="858.29" y="235.7" width="2.3" height="2.3" fill="#2f9a48" stroke="#b5e0bd" stroke-width="0.75"/>
<rect x="862.34" y="212.1" width="2.3" height="23.9" fill="#2f9a48" stroke="#b5e0bd" stroke-width="0.75"/>
<rect x="866.39" y="203.6" width="2.3" height="9.1" fill="#2f9a48" stroke="#b5e0bd" stroke-width="0.75"/>
<rect x="870.44" y="202.2" width="2.3" height="8.8" fill="#cc2a55" stroke="#f6b3c6" stroke-width="0.75"/>
<rect x="874.65" y="210.2" width="2.0" height="1.4" fill="#cccccc"/>
<rect x="878.55" y="210.2" width="2.3" height="3.6" fill="#cc2a55" stroke="#f6b3c6" stroke-width="0.75"/>
<rect x="882.75" y="213.0" width="2.0" height="8.9" fill="#d6bcc5"/>
<rect x="886.80" y="221.8" width="2.0" height="5.6" fill="#d6bcc5"/>
<rect x="890.85" y="227.9" width="2.0" height="26.7" fill="#d6bcc5"/>
<rect x="894.91" y="245.1" width="2.0" height="7.2" fill="#c2d0c6"/>
<rect x="898.96" y="244.2" width="2.0" height="1.5" fill="#cccccc"/>
<rect x="903.01" y="243.8" width="2.0" height="1.4" fill="#cccccc"/>
<rect x="906.91" y="244.1" width="2.3" height="2.2" fill="#cc2a55" stroke="#f6b3c6" stroke-width="0.75"/>
<rect x="910.96" y="246.5" width="2.3" height="15.0" fill="#cc2a55" stroke="#f6b3c6" stroke-width="0.75"/>
<rect x="915.02" y="250.9" width="2.3" height="10.6" fill="#2f9a48" stroke="#b5e0bd" stroke-width="0.75"/>
<rect x="919.07" y="246.3" width="2.3" height="5.2" fill="#2f9a48" stroke="#b5e0bd" stroke-width="0.75"/>
<rect x="923.27" y="246.0" width="2.0" height="1.4" fill="#cccccc"/>
<rect x="927.17" y="246.4" width="2.3" height="26.3" fill="#cc2a55" stroke="#f6b3c6" stroke-width="0.75"/>
<rect x="931.22" y="272.3" width="2.3" height="2.0" fill="#cc2a55" stroke="#f6b3c6" stroke-width="0.75"/>
<rect x="935.28" y="274.3" width="2.3" height="31.2" fill="#cc2a55" stroke="#f6b3c6" stroke-width="0.75"/>
<rect x="939.33" y="305.0" width="2.3" height="9.4" fill="#cc2a55" stroke="#f6b3c6" stroke-width="0.75"/>
<rect x="943.38" y="305.0" width="2.3" height="9.4" fill="#2f9a48" stroke="#b5e0bd" stroke-width="0.75"/>
<rect x="947.43" y="305.0" width="2.3" height="17.1" fill="#cc2a55" stroke="#f6b3c6" stroke-width="0.75"/>
<rect x="951.48" y="322.1" width="2.3" height="15.5" fill="#cc2a55" stroke="#f6b3c6" stroke-width="0.75"/>
<rect x="955.54" y="337.1" width="2.3" height="58.8" fill="#cc2a55" stroke="#f6b3c6" stroke-width="0.75"/>
<rect x="959.74" y="349.7" width="2.0" height="45.4" fill="#c2d0c6"/>
<rect x="963.79" y="349.7" width="2.0" height="8.9" fill="#d6bcc5"/>
<rect x="967.84" y="351.9" width="2.0" height="7.8" fill="#c2d0c6"/>
<rect x="971.89" y="352.5" width="2.0" height="1.4" fill="#cccccc"/>
<rect x="975.95" y="352.5" width="2.0" height="8.3" fill="#d6bcc5"/>
<rect x="980.00" y="359.1" width="2.0" height="11.7" fill="#d6bcc5"/>
<rect x="983.90" y="369.9" width="2.3" height="5.6" fill="#cc2a55" stroke="#f6b3c6" stroke-width="0.75"/>
<rect x="987.95" y="360.5" width="2.3" height="15.0" fill="#2f9a48" stroke="#b5e0bd" stroke-width="0.75"/>
<rect x="992.00" y="355.0" width="2.3" height="5.5" fill="#2f9a48" stroke="#b5e0bd" stroke-width="0.75"/>
<rect x="996.06" y="355.5" width="2.3" height="5.0" fill="#cc2a55" stroke="#f6b3c6" stroke-width="0.75"/>
<rect x="1000.26" y="359.7" width="2.0" height="1.4" fill="#cccccc"/>
<rect x="1004.16" y="359.9" width="2.3" height="8.9" fill="#cc2a55" stroke="#f6b3c6" stroke-width="0.75"/>
<rect x="1008.21" y="368.2" width="2.3" height="6.1" fill="#cc2a55" stroke="#f6b3c6" stroke-width="0.75"/>
<rect x="1012.26" y="371.2" width="2.3" height="3.1" fill="#2f9a48" stroke="#b5e0bd" stroke-width="0.75"/>
<rect x="1016.32" y="365.3" width="2.3" height="6.3" fill="#2f9a48" stroke="#b5e0bd" stroke-width="0.75"/>
<rect x="1020.52" y="365.0" width="2.0" height="1.4" fill="#cccccc"/>
<rect x="1024.42" y="365.7" width="2.3" height="1.8" fill="#cc2a55" stroke="#f6b3c6" stroke-width="0.75"/>
<rect x="1028.47" y="367.5" width="2.3" height="17.4" fill="#cc2a55" stroke="#f6b3c6" stroke-width="0.75"/>
</g>
<g clip-path="url(#pc)" fill="none" stroke-width="1.2" stroke-opacity="0.9" stroke-linejoin="round">
<polyline points="12.6,209.1 16.6,208.9 20.7,208.7 24.7,208.5 28.8,208.3 32.8,208.1 36.9,207.9 40.9,207.7 45.0,207.5 49.0,207.3 53.1,207.1 57.1,206.9 61.2,206.7 65.2,206.4 69.3,206.2 73.3,206.0 77.4,205.9 81.5,205.7 85.5,205.5 89.6,205.3 93.6,204.9 97.7,204.6 101.7,204.2 105.8,203.5 109.8,202.8 113.9,202.0 117.9,201.3 122.0,200.6 126.0,199.8 130.1,199.1 134.1,198.5 138.2,197.9 142.2,197.3 146.3,196.7 150.3,196.1 154.4,195.5 158.4,194.8 162.5,194.2 166.5,193.6 170.6,193.0 174.6,192.4 178.7,191.8 182.8,191.2 186.8,190.6 190.9,190.1 194.9,189.6 199.0,189.1 203.0,188.8 207.1,188.4 211.1,188.1 215.2,187.8 219.2,187.4 223.3,187.0 227.3,186.6 231.4,186.2 235.4,185.8 239.5,185.3 243.5,184.9 247.6,184.4 251.6,184.0 255.7,183.6 259.7,183.2 263.8,182.8 267.8,182.4 271.9,181.9 275.9,181.5 280.0,181.1 284.1,180.7 288.1,180.2 292.2,179.8 296.2,179.4 300.3,179.0 304.3,178.6 308.4,178.2 312.4,177.8 316.5,177.5 320.5,177.1 324.6,176.8 328.6,176.5 332.7,176.1 336.7,175.8 340.8,175.5 344.8,175.1 348.9,174.7 352.9,174.4 357.0,173.9 361.0,173.3 365.1,172.6 369.1,171.8 373.2,171.0 377.2,170.2 381.3,169.4 385.4,168.6 389.4,167.8 393.5,166.9 397.5,166.1 401.6,165.4 405.6,164.9 409.7,164.4 413.7,163.8 417.8,163.3 421.8,162.5 425.9,161.7 429.9,160.8 434.0,160.0 438.0,159.1 442.1,158.2 446.1,157.3 450.2,156.4 454.2,155.3 458.3,154.2 462.3,153.1 466.4,152.0 470.4,150.9 474.5,150.0 478.5,149.1 482.6,148.2 486.7,147.2 490.7,146.2 494.8,145.2 498.8,144.2 502.9,143.2 506.9,142.6 511.0,142.0 515.0,141.4 519.1,140.8 523.1,139.9 527.2,138.8 531.2,137.8 535.3,136.8 539.3,135.8 543.4,134.9 547.4,134.0 551.5,133.1 555.5,132.3 559.6,131.7 563.6,131.1 567.7,130.6 571.7,130.0 575.8,129.6 579.9,129.1 583.9,128.7 588.0,128.2 592.0,127.9 596.1,127.6 600.1,127.3 604.2,127.1 608.2,127.0 612.3,126.8 616.3,126.6 620.4,126.6 624.4,126.6 628.5,126.6 632.5,126.6 636.6,126.7 640.6,126.9 644.7,127.2 648.7,127.4 652.8,127.6 656.8,128.1 660.9,128.5 664.9,128.9 669.0,129.3 673.0,129.6 677.1,130.0 681.1,130.3 685.2,130.7 689.3,131.1 693.3,131.5 697.4,131.9 701.4,132.3 705.5,132.7 709.5,133.2 713.6,133.6 717.6,134.1 721.7,134.5 725.7,135.0 729.8,135.4 733.8,135.9 737.9,136.3 741.9,136.8 746.0,137.3 750.0,137.7 754.1,138.2 758.1,138.7 762.2,139.2 766.2,139.7 770.3,140.2 774.3,140.7 778.4,141.2 782.4,141.8 786.5,142.3 790.6,142.8 794.6,143.4 798.7,144.0 802.7,144.5 806.8,145.0 810.8,145.4 814.9,145.9 818.9,146.3 823.0,146.7 827.0,147.1 831.1,147.5 835.1,147.9 839.2,148.3 843.2,148.7 847.3,149.1 851.3,149.4 855.4,149.8 859.4,150.2 863.5,150.6 867.5,150.9 871.6,151.3 875.6,151.6 879.7,152.0 883.8,152.4 887.8,153.0 891.9,153.5 895.9,154.0 900.0,154.6 904.0,155.1 908.1,155.8 912.1,156.5 916.2,157.2 920.2,157.9 924.3,158.7 928.3,159.7 932.4,160.8 936.4,161.8 940.5,162.9 944.5,164.0 948.6,165.3 952.6,166.6 956.7,167.9 960.7,169.2 964.8,170.5 968.8,171.8 972.9,173.2 976.9,174.5 981.0,175.8 985.0,177.2 989.1,178.6 993.2,180.0 997.2,181.5 1001.3,182.9 1005.3,184.3 1009.4,185.7 1013.4,187.1 1017.5,188.5 1021.5,189.9 1025.6,191.3 1029.6,192.7" stroke="#62c8c0"/>
<polyline points="12.6,161.6 16.6,160.8 20.7,159.9 24.7,159.1 28.8,158.3 32.8,157.4 36.9,156.2 40.9,154.9 45.0,154.0 49.0,153.2 53.1,152.4 57.1,152.0 61.2,151.6 65.2,151.3 69.3,150.9 73.3,150.6 77.4,150.1 81.5,149.6 85.5,149.1 89.6,148.5 93.6,147.8 97.7,147.0 101.7,146.0 105.8,145.1 109.8,144.0 113.9,143.0 117.9,142.0 122.0,140.7 126.0,139.5 130.1,138.2 134.1,136.8 138.2,135.4 142.2,134.0 146.3,132.7 150.3,131.3 154.4,129.8 158.4,128.3 162.5,126.9 166.5,125.6 170.6,124.2 174.6,123.1 178.7,122.1 182.8,121.0 186.8,120.1 190.9,119.1 194.9,118.6 199.0,118.3 203.0,117.2 207.1,115.8 211.1,115.2 215.2,113.8 219.2,112.2 223.3,110.7 227.3,109.1 231.4,107.2 235.4,105.5 239.5,103.9 243.5,102.3 247.6,101.0 251.6,99.8 255.7,98.7 259.7,97.7 263.8,96.8 267.8,96.1 271.9,95.3 275.9,94.8 280.0,94.2 284.1,93.6 288.1,93.1 292.2,92.9 296.2,92.5 300.3,92.2 304.3,92.2 308.4,93.0 312.4,93.9 316.5,94.9 320.5,95.9 324.6,96.9 328.6,97.8 332.7,98.6 336.7,99.5 340.8,100.4 344.8,101.2 348.9,101.9 352.9,102.6 357.0,103.2 361.0,103.7 365.1,104.0 369.1,104.3 373.2,104.6 377.2,104.8 381.3,104.9 385.4,104.9 389.4,105.0 393.5,105.1 397.5,105.0 401.6,105.0 405.6,105.2 409.7,105.5 413.7,105.7 417.8,106.3 421.8,107.0 425.9,107.6 429.9,107.9 434.0,108.3 438.0,108.7 442.1,108.9 446.1,108.8 450.2,108.4 454.2,108.0 458.3,107.4 462.3,106.7 466.4,106.1 470.4,105.1 474.5,104.4 478.5,104.3 482.6,104.7 486.7,104.7 490.7,104.6 494.8,104.5 498.8,104.7 502.9,104.9 506.9,105.3 511.0,105.5 515.0,105.5 519.1,105.4 523.1,105.4 527.2,105.6 531.2,105.6 535.3,105.6 539.3,105.4 543.4,105.1 547.4,105.1 551.5,105.1 555.5,105.3 559.6,105.7 563.6,106.4 567.7,107.1 571.7,107.9 575.8,108.8 579.9,110.1 583.9,111.6 588.0,113.3 592.0,114.8 596.1,116.3 600.1,117.6 604.2,118.8 608.2,120.0 612.3,121.2 616.3,122.8 620.4,124.4 624.4,126.1 628.5,128.0 632.5,130.2 636.6,132.9 640.6,135.8 644.7,139.3 648.7,143.3 652.8,147.5 656.8,151.4 660.9,155.2 664.9,159.1 669.0,162.7 673.0,166.3 677.1,169.7 681.1,172.3 685.2,174.8 689.3,177.7 693.3,180.1 697.4,182.3 701.4,184.3 705.5,186.3 709.5,188.2 713.6,190.0 717.6,191.9 721.7,193.8 725.7,195.8 729.8,197.6 733.8,199.9 737.9,202.3 741.9,205.0 746.0,207.9 750.0,210.8 754.1,213.7 758.1,216.5 762.2,219.1 766.2,221.5 770.3,224.0 774.3,226.2 778.4,228.2 782.4,230.0 786.5,231.9 790.6,233.6 794.6,235.4 798.7,237.2 802.7,239.0 806.8,240.8 810.8,242.5 814.9,243.8 818.9,244.8 823.0,245.4 827.0,245.7 831.1,245.8 835.1,245.7 839.2,245.6 843.2,245.5 847.3,245.0 851.3,244.4 855.4,243.8 859.4,243.2 863.5,242.5 867.5,241.7 871.6,241.2 875.6,240.8 879.7,240.4 883.8,240.1 887.8,239.9 891.9,239.8 895.9,239.8 900.0,240.0 904.0,240.3 908.1,240.4 912.1,240.6 916.2,240.8 920.2,241.1 924.3,241.6 928.3,242.4 932.4,243.2 936.4,244.7 940.5,246.2 944.5,247.6 948.6,249.0 952.6,250.8 956.7,253.2 960.7,255.0 964.8,257.1 968.8,259.1 972.9,261.2 976.9,263.3 981.0,265.4 985.0,267.7 989.1,269.7 993.2,271.7 997.2,273.7 1001.3,275.9 1005.3,278.2 1009.4,280.5 1013.4,282.9 1017.5,285.3 1021.5,287.9 1025.6,290.5 1029.6,293.3" stroke="#f27474"/>
<polyline points="12.6,152.0 16.6,152.2 20.7,152.3 24.7,152.9 28.8,153.9 32.8,154.7 36.9,155.1 40.9,154.2 45.0,153.0 49.0,152.4 53.1,151.8 57.1,151.9 61.2,152.0 65.2,152.1 69.3,152.3 73.3,152.2 77.4,151.5 81.5,150.8 85.5,150.1 89.6,149.9 93.6,148.9 97.7,147.7 101.7,145.6 105.8,141.9 109.8,137.7 113.9,133.4 117.9,129.5 122.0,125.8 126.0,122.6 130.1,119.3 134.1,116.0 138.2,112.9 142.2,110.1 146.3,107.2 150.3,104.0 154.4,101.0 158.4,98.3 162.5,95.5 166.5,92.9 170.6,90.3 174.6,87.2 178.7,84.7 182.8,83.2 186.8,82.7 190.9,83.3 194.9,84.5 199.0,86.2 203.0,87.7 207.1,88.7 211.1,89.9 215.2,90.8 219.2,91.1 223.3,91.5 227.3,91.7 231.4,91.5 235.4,91.4 239.5,90.9 243.5,89.9 247.6,89.8 251.6,90.0 255.7,90.5 259.7,90.8 263.8,91.2 267.8,92.1 271.9,92.5 275.9,92.7 280.0,91.8 284.1,91.5 288.1,92.1 292.2,93.1 296.2,94.1 300.3,95.7 304.3,97.1 308.4,99.3 312.4,102.2 316.5,105.1 320.5,108.1 324.6,111.3 328.6,113.4 332.7,115.5 336.7,117.4 340.8,119.4 344.8,120.6 348.9,121.2 352.9,121.7 357.0,121.5 361.0,121.5 365.1,121.2 369.1,120.3 373.2,118.8 377.2,117.6 381.3,116.2 385.4,114.8 389.4,112.5 393.5,110.7 397.5,108.9 401.6,107.5 405.6,106.8 409.7,106.5 413.7,106.2 417.8,106.5 421.8,106.8 425.9,107.2 429.9,107.1 434.0,106.7 438.0,106.2 442.1,105.3 446.1,103.9 450.2,102.2 454.2,100.2 458.3,98.0 462.3,96.0 466.4,94.4 470.4,92.9 474.5,91.4 478.5,91.7 482.6,92.6 486.7,92.2 490.7,91.5 494.8,91.3 498.8,91.1 502.9,91.4 506.9,92.3 511.0,93.6 515.0,95.0 519.1,96.4 523.1,99.4 527.2,102.9 531.2,106.4 535.3,109.8 539.3,112.8 543.4,115.5 547.4,117.8 551.5,120.4 555.5,123.0 559.6,124.5 563.6,125.3 567.7,126.7 571.7,128.2 575.8,130.1 579.9,132.5 583.9,133.9 588.0,135.4 592.0,136.7 596.1,138.2 600.1,139.6 604.2,140.6 608.2,142.1 612.3,144.7 616.3,148.3 620.4,153.1 624.4,158.2 628.5,163.6 632.5,169.1 636.6,173.9 640.6,178.6 644.7,184.2 648.7,191.0 652.8,197.9 656.8,203.2 660.9,207.6 664.9,212.0 669.0,215.5 673.0,219.0 677.1,222.4 681.1,226.1 685.2,230.1 689.3,234.1 693.3,237.0 697.4,239.2 701.4,240.4 705.5,242.0 709.5,243.2 713.6,243.8 717.6,243.9 721.7,243.6 725.7,242.3 729.8,240.8 733.8,239.7 737.9,238.8 741.9,238.9 746.0,239.1 750.0,239.9 754.1,241.1 758.1,242.2 762.2,242.9 766.2,243.4 770.3,243.3 774.3,244.2 778.4,245.5 782.4,246.6 786.5,247.3 790.6,248.1 794.6,248.9 798.7,249.7 802.7,250.9 806.8,252.0 810.8,253.2 814.9,253.7 818.9,253.6 823.0,253.2 827.0,251.8 831.1,250.3 835.1,248.5 839.2,246.9 843.2,245.7 847.3,244.8 851.3,244.2 855.4,243.5 859.4,242.1 863.5,240.3 867.5,238.0 871.6,235.8 875.6,233.6 879.7,231.7 883.8,229.9 887.8,228.8 891.9,228.6 895.9,228.4 900.0,228.5 904.0,229.0 908.1,229.6 912.1,231.2 916.2,232.7 920.2,233.7 924.3,234.8 928.3,236.5 932.4,238.8 936.4,242.1 940.5,246.2 944.5,251.4 948.6,257.3 952.6,264.5 956.7,273.1 960.7,280.0 964.8,286.5 968.8,292.6 972.9,297.8 976.9,303.3 981.0,309.2 985.0,315.2 989.1,320.6 993.2,325.3 997.2,330.4 1001.3,336.0 1005.3,341.7 1009.4,346.6 1013.4,351.0 1017.5,354.5 1021.5,357.3 1025.6,360.5 1029.6,363.6" stroke="#f2d22a"/>
</g>
<g clip-path="url(#vc)" shape-rendering="crispEdges">
<rect x="10.54" y="553.9" width="4.06" height="46.3" fill="#ff0505"/>
<rect x="14.59" y="560.9" width="4.06" height="39.3" fill="#1a911a"/>
<rect x="18.64" y="569.4" width="4.06" height="30.8" fill="#ff0505"/>
<rect x="22.70" y="557.8" width="4.06" height="42.4" fill="#ff0505"/>
<rect x="26.75" y="567.9" width="4.06" height="32.3" fill="#ff0505"/>
<rect x="30.80" y="544.6" width="4.06" height="55.6" fill="#ff0505"/>
<rect x="34.85" y="546.2" width="4.06" height="54.0" fill="#1a911a"/>
<rect x="38.90" y="559.4" width="4.06" height="40.8" fill="#1a911a"/>
<rect x="42.96" y="557.0" width="4.06" height="43.2" fill="#1a911a"/>
<rect x="47.01" y="564.0" width="4.06" height="36.2" fill="#ff0505"/>
<rect x="51.06" y="563.2" width="4.06" height="37.0" fill="#1a911a"/>
<rect x="55.11" y="574.9" width="4.06" height="25.3" fill="#1a911a"/>
<rect x="59.16" y="571.0" width="4.06" height="29.2" fill="#1a911a"/>
<rect x="63.22" y="565.6" width="4.06" height="34.6" fill="#ff0505"/>
<rect x="67.27" y="564.0" width="4.06" height="36.2" fill="#ff0505"/>
<rect x="71.32" y="553.2" width="4.06" height="47.0" fill="#1a911a"/>
<rect x="75.37" y="557.8" width="4.06" height="42.4" fill="#1a911a"/>
<rect x="79.42" y="564.8" width="4.06" height="35.4" fill="#ff0505"/>
<rect x="83.48" y="575.6" width="4.06" height="24.6" fill="#1a911a"/>
<rect x="87.53" y="570.2" width="4.06" height="30.0" fill="#1a911a"/>
<rect x="91.58" y="561.7" width="4.06" height="38.5" fill="#ff0505"/>
<rect x="95.63" y="563.2" width="4.06" height="37.0" fill="#1a911a"/>
<rect x="99.68" y="552.4" width="4.06" height="47.8" fill="#1a911a"/>
<rect x="103.74" y="519.8" width="4.06" height="80.4" fill="#1a911a"/>
<rect x="107.79" y="526.8" width="4.06" height="73.4" fill="#1a911a"/>
<rect x="111.84" y="561.7" width="4.06" height="38.5" fill="#ff0505"/>
<rect x="115.89" y="559.4" width="4.06" height="40.8" fill="#1a911a"/>
<rect x="119.94" y="446.6" width="4.06" height="153.6" fill="#1a911a"/>
<rect x="124.00" y="518.3" width="4.06" height="81.9" fill="#ff0505"/>
<rect x="128.05" y="540.0" width="4.06" height="60.2" fill="#1a911a"/>
<rect x="132.10" y="540.0" width="4.06" height="60.2" fill="#1a911a"/>
<rect x="136.15" y="535.0" width="4.06" height="65.2" fill="#ff0505"/>
<rect x="140.20" y="560.1" width="4.06" height="40.1" fill="#ff0505"/>
<rect x="144.26" y="552.1" width="4.06" height="48.1" fill="#ff0505"/>
<rect x="148.31" y="542.3" width="4.06" height="57.9" fill="#1a911a"/>
<rect x="152.36" y="534.1" width="4.06" height="66.1" fill="#1a911a"/>
<rect x="156.41" y="545.4" width="4.06" height="54.8" fill="#ff0505"/>
<rect x="160.46" y="539.2" width="4.06" height="61.0" fill="#ff0505"/>
<rect x="164.52" y="512.1" width="4.06" height="88.1" fill="#ff0505"/>
<rect x="168.57" y="560.1" width="4.06" height="40.1" fill="#1a911a"/>
<rect x="172.62" y="554.7" width="4.06" height="45.5" fill="#1a911a"/>
<rect x="176.67" y="546.2" width="4.06" height="54.0" fill="#ff0505"/>
<rect x="180.72" y="543.9" width="4.06" height="56.3" fill="#ff0505"/>
<rect x="184.78" y="543.1" width="4.06" height="57.1" fill="#ff0505"/>
<rect x="188.83" y="542.3" width="4.06" height="57.9" fill="#ff0505"/>
<rect x="192.88" y="523.7" width="4.06" height="76.5" fill="#ff0505"/>
<rect x="196.93" y="553.2" width="4.06" height="47.0" fill="#ff0505"/>
<rect x="200.98" y="560.1" width="4.06" height="40.1" fill="#1a911a"/>
<rect x="205.04" y="571.0" width="4.06" height="29.2" fill="#1a911a"/>
<rect x="209.09" y="549.3" width="4.06" height="50.9" fill="#ff0505"/>
<rect x="213.14" y="552.4" width="4.06" height="47.8" fill="#1a911a"/>
<rect x="217.19" y="547.4" width="4.06" height="52.8" fill="#1a911a"/>
<rect x="221.24" y="550.1" width="4.06" height="50.1" fill="#ff0505"/>
<rect x="225.30" y="555.5" width="4.06" height="44.7" fill="#ff0505"/>
<rect x="229.35" y="546.2" width="4.06" height="54.0" fill="#1a911a"/>
<rect x="233.40" y="524.2" width="4.06" height="76.0" fill="#ff0505"/>
<rect x="237.45" y="540.0" width="4.06" height="60.2" fill="#1a911a"/>
<rect x="241.50" y="523.7" width="4.06" height="76.5" fill="#1a911a"/>
<rect x="245.56" y="512.8" width="4.06" height="87.4" fill="#ff0505"/>
<rect x="249.61" y="543.1" width="4.06" height="57.1" fill="#ff0505"/>
<rect x="253.66" y="560.1" width="4.06" height="40.1" fill="#1a911a"/>
<rect x="257.71" y="562.0" width="4.06" height="38.2" fill="#ff0505"/>
<rect x="261.76" y="539.2" width="4.06" height="61.0" fill="#ff0505"/>
<rect x="265.82" y="540.3" width="4.06" height="59.9" fill="#ff0505"/>
<rect x="269.87" y="543.1" width="4.06" height="57.1" fill="#1a911a"/>
<rect x="273.92" y="552.1" width="4.06" height="48.1" fill="#ff0505"/>
<rect x="277.97" y="531.0" width="4.06" height="69.2" fill="#1a911a"/>
<rect x="282.02" y="553.6" width="4.06" height="46.6" fill="#ff0505"/>
<rect x="286.08" y="538.1" width="4.06" height="62.1" fill="#ff0505"/>
<rect x="290.13" y="527.9" width="4.06" height="72.3" fill="#ff0505"/>
<rect x="294.18" y="542.3" width="4.06" height="57.9" fill="#1a911a"/>
<rect x="298.23" y="548.0" width="4.06" height="52.2" fill="#ff0505"/>
<rect x="302.28" y="551.6" width="4.06" height="48.6" fill="#1a911a"/>
<rect x="306.34" y="535.0" width="4.06" height="65.2" fill="#ff0505"/>
<rect x="310.39" y="557.0" width="4.06" height="43.2" fill="#1a911a"/>
<rect x="314.44" y="559.8" width="4.06" height="40.4" fill="#ff0505"/>
<rect x="318.49" y="543.9" width="4.06" height="56.3" fill="#1a911a"/>
<rect x="322.54" y="538.1" width="4.06" height="62.1" fill="#1a911a"/>
<rect x="326.60" y="549.0" width="4.06" height="51.2" fill="#1a911a"/>
<rect x="330.65" y="550.1" width="4.06" height="50.1" fill="#ff0505"/>
<rect x="334.70" y="550.1" width="4.06" height="50.1" fill="#ff0505"/>
<rect x="338.75" y="583.1" width="4.06" height="17.1" fill="#ff0505"/>
<rect x="342.80" y="580.0" width="4.06" height="20.2" fill="#1a911a"/>
<rect x="346.86" y="566.7" width="4.06" height="33.5" fill="#1a911a"/>
<rect x="350.91" y="561.7" width="4.06" height="38.5" fill="#ff0505"/>
<rect x="354.96" y="552.7" width="4.06" height="47.5" fill="#1a911a"/>
<rect x="359.01" y="560.9" width="4.06" height="39.3" fill="#1a911a"/>
<rect x="363.06" y="554.7" width="4.06" height="45.5" fill="#1a911a"/>
<rect x="367.12" y="571.8" width="4.06" height="28.4" fill="#ff0505"/>
<rect x="371.17" y="573.3" width="4.06" height="26.9" fill="#ff0505"/>
<rect x="375.22" y="556.3" width="4.06" height="43.9" fill="#1a911a"/>
<rect x="379.27" y="561.7" width="4.06" height="38.5" fill="#1a911a"/>
<rect x="383.32" y="550.1" width="4.06" height="50.1" fill="#ff0505"/>
<rect x="387.38" y="559.4" width="4.06" height="40.8" fill="#1a911a"/>
<rect x="391.43" y="567.9" width="4.06" height="32.3" fill="#ff0505"/>
<rect x="395.48" y="582.0" width="4.06" height="18.2" fill="#1a911a"/>
<rect x="399.53" y="582.0" width="4.06" height="18.2" fill="#ff0505"/>
<rect x="403.58" y="541.1" width="4.06" height="59.1" fill="#ff0505"/>
<rect x="407.64" y="560.9" width="4.06" height="39.3" fill="#ff0505"/>
<rect x="411.69" y="560.3" width="4.06" height="39.9" fill="#1a911a"/>
<rect x="415.74" y="536.9" width="4.06" height="63.3" fill="#ff0505"/>
<rect x="419.79" y="552.0" width="4.06" height="48.2" fill="#1a911a"/>
<rect x="423.84" y="578.3" width="4.06" height="21.9" fill="#ff0505"/>
<rect x="427.90" y="572.7" width="4.06" height="27.5" fill="#1a911a"/>
<rect x="431.95" y="550.0" width="4.06" height="50.2" fill="#1a911a"/>
<rect x="436.00" y="551.0" width="4.06" height="49.2" fill="#ff0505"/>
<rect x="440.05" y="541.7" width="4.06" height="58.5" fill="#1a911a"/>
<rect x="444.10" y="539.6" width="4.06" height="60.6" fill="#1a911a"/>
<rect x="448.16" y="530.3" width="4.06" height="69.9" fill="#1a911a"/>
<rect x="452.21" y="569.6" width="4.06" height="30.6" fill="#1a911a"/>
<rect x="456.26" y="538.6" width="4.06" height="61.6" fill="#1a911a"/>
<rect x="460.31" y="539.6" width="4.06" height="60.6" fill="#1a911a"/>
<rect x="464.36" y="536.1" width="4.06" height="64.1" fill="#ff0505"/>
<rect x="468.42" y="545.8" width="4.06" height="54.4" fill="#1a911a"/>
<rect x="472.47" y="538.2" width="4.06" height="62.0" fill="#ff0505"/>
<rect x="476.52" y="471.4" width="4.06" height="128.8" fill="#ff0505"/>
<rect x="480.57" y="508.0" width="4.06" height="92.2" fill="#ff0505"/>
<rect x="484.62" y="521.6" width="4.06" height="78.6" fill="#1a911a"/>
<rect x="488.68" y="539.6" width="4.06" height="60.6" fill="#1a911a"/>
<rect x="492.73" y="523.1" width="4.06" height="77.1" fill="#ff0505"/>
<rect x="496.78" y="539.6" width="4.06" height="60.6" fill="#ff0505"/>
<rect x="500.83" y="527.2" width="4.06" height="73.0" fill="#ff0505"/>
<rect x="504.88" y="516.9" width="4.06" height="83.3" fill="#ff0505"/>
<rect x="508.94" y="568.6" width="4.06" height="31.6" fill="#1a911a"/>
<rect x="512.99" y="561.3" width="4.06" height="38.9" fill="#1a911a"/>
<rect x="517.04" y="546.9" width="4.06" height="53.3" fill="#1a911a"/>
<rect x="521.09" y="514.8" width="4.06" height="85.4" fill="#ff0505"/>
<rect x="525.14" y="533.4" width="4.06" height="66.8" fill="#ff0505"/>
<rect x="529.20" y="554.1" width="4.06" height="46.1" fill="#1a911a"/>
<rect x="533.25" y="560.3" width="4.06" height="39.9" fill="#1a911a"/>
<rect x="537.30" y="579.5" width="4.06" height="20.7" fill="#1a911a"/>
<rect x="541.35" y="565.9" width="4.06" height="34.3" fill="#1a911a"/>
<rect x="545.40" y="549.3" width="4.06" height="50.9" fill="#ff0505"/>
<rect x="549.46" y="546.4" width="4.06" height="53.8" fill="#ff0505"/>
<rect x="553.51" y="547.9" width="4.06" height="52.3" fill="#ff0505"/>
<rect x="557.56" y="542.3" width="4.06" height="57.9" fill="#ff0505"/>
<rect x="561.61" y="550.0" width="4.06" height="50.2" fill="#1a911a"/>
<rect x="565.66" y="579.5" width="4.06" height="20.7" fill="#1a911a"/>
<rect x="569.72" y="571.7" width="4.06" height="28.5" fill="#1a911a"/>
<rect x="573.77" y="539.0" width="4.06" height="61.2" fill="#ff0505"/>
<rect x="577.82" y="507.1" width="4.06" height="93.1" fill="#ff0505"/>
<rect x="581.87" y="534.9" width="4.06" height="65.3" fill="#1a911a"/>
<rect x="585.92" y="546.9" width="4.06" height="53.3" fill="#ff0505"/>
<rect x="589.98" y="523.1" width="4.06" height="77.1" fill="#1a911a"/>
<rect x="594.03" y="556.8" width="4.06" height="43.4" fill="#ff0505"/>
<rect x="598.08" y="550.0" width="4.06" height="50.2" fill="#1a911a"/>
<rect x="602.13" y="542.3" width="4.06" height="57.9" fill="#1a911a"/>
<rect x="606.18" y="540.6" width="4.06" height="59.6" fill="#ff0505"/>
<rect x="610.24" y="545.2" width="4.06" height="55.0" fill="#ff0505"/>
<rect x="614.29" y="514.8" width="4.06" height="85.4" fill="#ff0505"/>
<rect x="618.34" y="503.8" width="4.06" height="96.4" fill="#ff0505"/>
<rect x="622.39" y="567.5" width="4.06" height="32.7" fill="#1a911a"/>
<rect x="626.44" y="541.1" width="4.06" height="59.1" fill="#ff0505"/>
<rect x="630.50" y="520.4" width="4.06" height="79.8" fill="#ff0505"/>
<rect x="634.55" y="514.8" width="4.06" height="85.4" fill="#1a911a"/>
<rect x="638.60" y="532.8" width="4.06" height="67.4" fill="#ff0505"/>
<rect x="642.65" y="518.3" width="4.06" height="81.9" fill="#ff0505"/>
<rect x="646.70" y="492.1" width="4.06" height="108.1" fill="#ff0505"/>
<rect x="650.76" y="565.9" width="4.06" height="34.3" fill="#ff0505"/>
<rect x="654.81" y="552.0" width="4.06" height="48.2" fill="#1a911a"/>
<rect x="658.86" y="538.2" width="4.06" height="62.0" fill="#1a911a"/>
<rect x="662.91" y="545.8" width="4.06" height="54.4" fill="#ff0505"/>
<rect x="666.96" y="545.2" width="4.06" height="55.0" fill="#1a911a"/>
<rect x="671.02" y="553.1" width="4.06" height="47.1" fill="#1a911a"/>
<rect x="675.07" y="549.0" width="4.06" height="51.2" fill="#ff0505"/>
<rect x="679.12" y="569.1" width="4.06" height="31.1" fill="#ff0505"/>
<rect x="683.17" y="568.2" width="4.06" height="32.0" fill="#ff0505"/>
<rect x="687.22" y="526.8" width="4.06" height="73.4" fill="#ff0505"/>
<rect x="691.28" y="534.1" width="4.06" height="66.1" fill="#1a911a"/>
<rect x="695.33" y="535.0" width="4.06" height="65.2" fill="#1a911a"/>
<rect x="699.38" y="546.2" width="4.06" height="54.0" fill="#ff0505"/>
<rect x="703.43" y="547.0" width="4.06" height="53.2" fill="#ff0505"/>
<rect x="707.48" y="568.7" width="4.06" height="31.5" fill="#ff0505"/>
<rect x="711.54" y="560.9" width="4.06" height="39.3" fill="#1a911a"/>
<rect x="715.59" y="552.4" width="4.06" height="47.8" fill="#1a911a"/>
<rect x="719.64" y="544.3" width="4.06" height="55.9" fill="#1a911a"/>
<rect x="723.69" y="545.9" width="4.06" height="54.3" fill="#ff0505"/>
<rect x="727.74" y="546.2" width="4.06" height="54.0" fill="#1a911a"/>
<rect x="731.80" y="533.0" width="4.06" height="67.2" fill="#ff0505"/>
<rect x="735.85" y="547.0" width="4.06" height="53.2" fill="#1a911a"/>
<rect x="739.90" y="557.8" width="4.06" height="42.4" fill="#ff0505"/>
<rect x="743.95" y="562.0" width="4.06" height="38.2" fill="#ff0505"/>
<rect x="748.00" y="566.0" width="4.06" height="34.2" fill="#1a911a"/>
<rect x="752.06" y="563.2" width="4.06" height="37.0" fill="#ff0505"/>
<rect x="756.11" y="556.3" width="4.06" height="43.9" fill="#ff0505"/>
<rect x="760.16" y="560.9" width="4.06" height="39.3" fill="#1a911a"/>
<rect x="764.21" y="588.1" width="4.06" height="12.1" fill="#1a911a"/>
<rect x="768.26" y="584.2" width="4.06" height="16.0" fill="#1a911a"/>
<rect x="772.32" y="569.1" width="4.06" height="31.1" fill="#ff0505"/>
<rect x="776.37" y="564.0" width="4.06" height="36.2" fill="#ff0505"/>
<rect x="780.42" y="579.5" width="4.06" height="20.7" fill="#1a911a"/>
<rect x="784.47" y="584.2" width="4.06" height="16.0" fill="#ff0505"/>
<rect x="788.52" y="565.1" width="4.06" height="35.1" fill="#1a911a"/>
<rect x="792.58" y="588.8" width="4.06" height="11.4" fill="#1a911a"/>
<rect x="796.63" y="588.1" width="4.06" height="12.1" fill="#1a911a"/>
<rect x="800.68" y="560.1" width="4.06" height="40.1" fill="#ff0505"/>
<rect x="804.73" y="571.0" width="4.06" height="29.2" fill="#1a911a"/>
<rect x="808.78" y="572.2" width="4.06" height="28.0" fill="#ff0505"/>
<rect x="812.84" y="585.3" width="4.06" height="14.9" fill="#1a911a"/>
<rect x="816.89" y="562.0" width="4.06" height="38.2" fill="#1a911a"/>
<rect x="820.94" y="583.4" width="4.06" height="16.8" fill="#1a911a"/>
<rect x="824.99" y="578.4" width="4.06" height="21.8" fill="#1a911a"/>
<rect x="829.04" y="556.3" width="4.06" height="43.9" fill="#1a911a"/>
<rect x="833.10" y="556.7" width="4.06" height="43.5" fill="#ff0505"/>
<rect x="837.15" y="564.0" width="4.06" height="36.2" fill="#ff0505"/>
<rect x="841.20" y="565.1" width="4.06" height="35.1" fill="#ff0505"/>
<rect x="845.25" y="567.9" width="4.06" height="32.3" fill="#ff0505"/>
<rect x="849.30" y="590.4" width="4.06" height="9.8" fill="#ff0505"/>
<rect x="853.36" y="586.5" width="4.06" height="13.7" fill="#1a911a"/>
<rect x="857.41" y="566.3" width="4.06" height="33.9" fill="#1a911a"/>
<rect x="861.46" y="553.2" width="4.06" height="47.0" fill="#1a911a"/>
<rect x="865.51" y="550.5" width="4.06" height="49.7" fill="#1a911a"/>
<rect x="869.56" y="556.2" width="4.06" height="44.0" fill="#ff0505"/>
<rect x="873.62" y="573.6" width="4.06" height="26.6" fill="#ff0505"/>
<rect x="877.67" y="587.2" width="4.06" height="13.0" fill="#ff0505"/>
<rect x="881.72" y="583.2" width="4.06" height="17.0" fill="#ff0505"/>
<rect x="885.77" y="568.3" width="4.06" height="31.9" fill="#ff0505"/>
<rect x="889.82" y="556.2" width="4.06" height="44.0" fill="#ff0505"/>
<rect x="893.88" y="553.0" width="4.06" height="47.2" fill="#1a911a"/>
<rect x="897.93" y="570.8" width="4.06" height="29.4" fill="#1a911a"/>
<rect x="901.98" y="568.3" width="4.06" height="31.9" fill="#1a911a"/>
<rect x="906.03" y="589.5" width="4.06" height="10.7" fill="#ff0505"/>
<rect x="910.08" y="570.0" width="4.06" height="30.2" fill="#ff0505"/>
<rect x="914.14" y="563.3" width="4.06" height="36.9" fill="#1a911a"/>
<rect x="918.19" y="567.7" width="4.06" height="32.5" fill="#1a911a"/>
<rect x="922.24" y="566.9" width="4.06" height="33.3" fill="#1a911a"/>
<rect x="926.29" y="546.5" width="4.06" height="53.7" fill="#ff0505"/>
<rect x="930.34" y="540.3" width="4.06" height="59.9" fill="#ff0505"/>
<rect x="934.40" y="541.2" width="4.06" height="59.0" fill="#ff0505"/>
<rect x="938.45" y="556.2" width="4.06" height="44.0" fill="#ff0505"/>
<rect x="942.50" y="537.1" width="4.06" height="63.1" fill="#1a911a"/>
<rect x="946.55" y="543.5" width="4.06" height="56.7" fill="#ff0505"/>
<rect x="950.60" y="543.8" width="4.06" height="56.4" fill="#ff0505"/>
<rect x="954.66" y="495.1" width="4.06" height="105.1" fill="#ff0505"/>
<rect x="958.71" y="503.9" width="4.06" height="96.3" fill="#1a911a"/>
<rect x="962.76" y="547.7" width="4.06" height="52.5" fill="#ff0505"/>
<rect x="966.81" y="566.5" width="4.06" height="33.7" fill="#1a911a"/>
<rect x="970.86" y="556.6" width="4.06" height="43.6" fill="#ff0505"/>
<rect x="974.92" y="566.9" width="4.06" height="33.3" fill="#ff0505"/>
<rect x="978.97" y="558.3" width="4.06" height="41.9" fill="#ff0505"/>
<rect x="983.02" y="563.0" width="4.06" height="37.2" fill="#ff0505"/>
<rect x="987.07" y="566.0" width="4.06" height="34.2" fill="#1a911a"/>
<rect x="991.12" y="569.5" width="4.06" height="30.7" fill="#1a911a"/>
<rect x="995.18" y="566.5" width="4.06" height="33.7" fill="#ff0505"/>
<rect x="999.23" y="571.8" width="4.06" height="28.4" fill="#1a911a"/>
<rect x="1003.28" y="570.8" width="4.06" height="29.4" fill="#ff0505"/>
<rect x="1007.33" y="572.5" width="4.06" height="27.7" fill="#ff0505"/>
<rect x="1011.38" y="573.9" width="4.06" height="26.3" fill="#1a911a"/>
<rect x="1015.44" y="560.6" width="4.06" height="39.6" fill="#1a911a"/>
<rect x="1019.49" y="585.5" width="4.06" height="14.7" fill="#1a911a"/>
<rect x="1023.54" y="586.0" width="4.06" height="14.2" fill="#ff0505"/>
<rect x="1027.59" y="558.9" width="4.06" height="41.3" fill="#ff0505"/>
</g>
<rect x="12.3" y="16.5" width="1042.0" height="581.7" fill="none" stroke="#8a8a8a" stroke-width="1.1"/>
<path d="M12.3,432.2H1054.3" stroke="#7a7a7a" stroke-width="1.5"/>
<path d="M1054.3,410.31h5M1054.3,354.18h5M1054.3,298.05h5M1054.3,241.92h5M1054.3,185.79h5M1054.3,129.66h5M1054.3,73.53h5M1054.3,17.40h5M1054.3,474.5h5M1054.3,516.3h5M1054.3,559.3h5M69.3,598.2v5M194.4,598.2v5M320.3,598.2v5M442.4,598.2v5M567.4,598.2v5M689.4,598.2v5M814.7,598.2v5M940.5,598.2v5" stroke="#fff" stroke-width="1"/>
<text x="1064.9" y="416.2" font-family="DejaVu Sans" font-size="13.4" fill="#fff">60.000</text>
<text x="1064.9" y="360.1" font-family="DejaVu Sans" font-size="13.4" fill="#fff">70.000</text>
<text x="1064.9" y="303.9" font-family="DejaVu Sans" font-size="13.4" fill="#fff">80.000</text>
<text x="1064.9" y="247.8" font-family="DejaVu Sans" font-size="13.4" fill="#fff">90.000</text>
<text x="1064.9" y="191.7" font-family="DejaVu Sans" font-size="13.4" fill="#fff">100.000</text>
<text x="1064.9" y="135.6" font-family="DejaVu Sans" font-size="13.4" fill="#fff">110.000</text>
<text x="1064.9" y="79.4" font-family="DejaVu Sans" font-size="13.4" fill="#fff">120.000</text>
<text x="1064.9" y="23.3" font-family="DejaVu Sans" font-size="13.4" fill="#fff">130.000</text>
<text x="1063.8" y="479.7" font-family="DejaVu Sans" font-size="13.4" fill="#fff">150000</text>
<text x="1063.8" y="521.5" font-family="DejaVu Sans" font-size="13.4" fill="#fff">100000</text>
<text x="1063.8" y="564.5" font-family="DejaVu Sans" font-size="13.4" fill="#fff">50000</text>
<text transform="translate(1137,226.8) rotate(-90)" font-family="DejaVu Sans" font-size="13.6" fill="#e0e0e0" text-anchor="middle">Preis</text>
<text transform="translate(1132,517.6) rotate(-90)" font-family="DejaVu Sans" font-size="13.6" fill="#e0e0e0" text-anchor="middle">Volumen</text>
<text transform="translate(1152,513) rotate(-90)" font-family="DejaVu Sans" font-size="13.7" fill="#e0e0e0" text-anchor="middle">10<tspan dy="-5" font-size="9.7">6</tspan></text>
<text transform="translate(193.00,636.90) rotate(-45)" font-family="DejaVu Sans" font-size="13.8" fill="#fff" text-anchor="middle" dominant-baseline="central">Aug 2025</text>
<text transform="translate(440.60,635.20) rotate(-45)" font-family="DejaVu Sans" font-size="13.8" fill="#fff" text-anchor="middle" dominant-baseline="central">Oct 2025</text>
<text transform="translate(687.30,636.20) rotate(-45)" font-family="DejaVu Sans" font-size="13.8" fill="#fff" text-anchor="middle" dominant-baseline="central">Dec 2025</text>
<text transform="translate(938.90,636.20) rotate(-45)" font-family="DejaVu Sans" font-size="13.8" fill="#fff" text-anchor="middle" dominant-baseline="central">Feb 2026</text>
<rect x="915.1" y="54.1" width="9.8" height="9.8" fill="#ffd700"/>
<text x="930.5" y="62.3" font-family="DejaVu Sans" font-weight="bold" font-size="12.5" fill="#ffd700">SMA 20</text>
<rect x="915.1" y="71.1" width="9.8" height="9.8" fill="#ff6b6b"/>
<text x="930.5" y="79.3" font-family="DejaVu Sans" font-weight="bold" font-size="12.5" fill="#ff6b6b">SMA 50</text>
<rect x="915.1" y="87.1" width="9.8" height="9.8" fill="#4ecdc4"/>
<text x="930.5" y="95.3" font-family="DejaVu Sans" font-weight="bold" font-size="12.5" fill="#4ecdc4">SMA 200</text>
<path d="M506.5,33.2L472.0,37.0" stroke="#2ecc71" stroke-width="1.6"/>
<polygon points="465.0,37.8 472.6,33.3 473.3,40.5" fill="#2ecc71"/>
<rect x="507.5" y="17" width="130" height="19" rx="3" fill="#06120b" stroke="#2ecc71" stroke-width="1.5"/>
<text x="572.5" y="31.2" font-family="DejaVu Sans" font-weight="bold" font-size="12.5" fill="#2ecc71" text-anchor="middle">$126,198.07 52W</text>
<path d="M916.5,414.6L951.1,409.8" stroke="#e74c3c" stroke-width="1.6"/>
<polygon points="958.0,408.8 950.6,413.5 949.6,406.3" fill="#e74c3c"/>
<rect x="795.2" y="412.3" width="120" height="18.6" rx="3" fill="#140606" stroke="#e74c3c" stroke-width="1.5"/>
<text x="855.2" y="426" font-family="DejaVu Sans" font-weight="bold" font-size="12.5" fill="#e74c3c" text-anchor="middle">$60,074.20 52W</text>
</svg>
</div></body></html>
